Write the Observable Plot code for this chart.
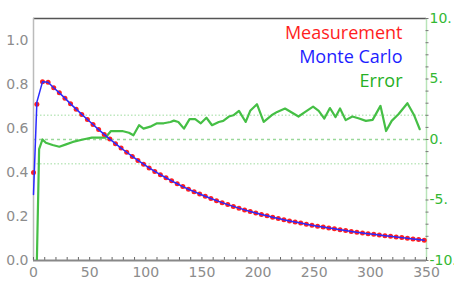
<!DOCTYPE html>
<html><head><meta charset="utf-8">
<script src="https://cdn.jsdelivr.net/npm/d3@7"></script>
<script src="https://cdn.jsdelivr.net/npm/@observablehq/plot@0.6"></script>
<style>html,body{margin:0;padding:0;background:#fff;overflow:hidden}</style>
</head><body><div id="chart"></div>
<script>
const measX = [0,3,8,13,18,23,28,33,38,43,48,53,58,63,68,73,78,83,88,93,98,103,108,113,118,123,128,133,138,143,148,153,158,163,168,173,178,183,188,193,198,203,208,213,218,223,228,233,238,243,248,253,258,263,268,273,278,283,288,293,298,303,308,313,318,323,328,333,338,343,348];
const measV = [0.40,0.71,0.812,0.81,0.785,0.762,0.738,0.712,0.688,0.664,0.641,0.618,0.595,0.573,0.552,0.531,0.511,0.492,0.473,0.455,0.438,0.421,0.405,0.390,0.376,0.362,0.349,0.336,0.324,0.313,0.302,0.292,0.282,0.272,0.263,0.254,0.246,0.238,0.230,0.223,0.216,0.209,0.203,0.197,0.191,0.185,0.180,0.175,0.170,0.165,0.160,0.156,0.152,0.148,0.144,0.140,0.136,0.132,0.128,0.125,0.122,0.119,0.116,0.113,0.110,0.107,0.104,0.101,0.098,0.095,0.092];
const mcX = measX;
const mcV = [0.30,0.72,0.812,0.81,0.785,0.762,0.738,0.712,0.688,0.664,0.641,0.618,0.595,0.573,0.552,0.531,0.511,0.492,0.473,0.455,0.438,0.421,0.405,0.390,0.376,0.362,0.349,0.336,0.324,0.313,0.302,0.292,0.282,0.272,0.263,0.254,0.246,0.238,0.230,0.223,0.216,0.209,0.203,0.197,0.191,0.185,0.180,0.175,0.170,0.165,0.160,0.156,0.152,0.148,0.144,0.140,0.136,0.132,0.128,0.125,0.122,0.119,0.116,0.113,0.110,0.107,0.104,0.101,0.098,0.095,0.092];
const errX = [3,5,8,11,17,23,29,35,44,52,64,69,79,85,89,94,98,104,110,116,122,125,129,134,139,144,149,154,159,165,169,174,178,183,189,193,199,205,212,217,224,230,236,242,249,254,259,264,269,273,278,284,290,296,302,309,314,319,325,333,339,344];
const errV = [-10,-0.8,0.0,-0.27,-0.45,-0.6,-0.4,-0.2,0.0,0.15,0.15,0.7,0.7,0.56,0.35,1.18,0.9,1.06,1.34,1.34,1.45,1.56,1.45,0.9,1.68,1.68,1.34,1.8,1.18,1.45,1.54,1.9,2.0,2.37,1.45,2.37,2.92,1.45,2.0,2.28,2.56,2.23,1.9,2.28,2.72,2.37,1.73,2.6,1.85,2.56,1.6,1.9,1.73,1.54,1.62,2.78,0.7,1.54,2.09,3.0,2.0,0.85];

const xDomain = [0, 350];
const yDomain = [0, 1.1];
const errDomain = [-10, 10];
const xTicks = [0,50,100,150,200,250,300,350];
const xMinorTicks = d3.range(0, 351, 10);
const yTicks = [0,0.2,0.4,0.6,0.8,1.0];
const yTickLabels = ["0.0","0.2","0.4","0.6","0.8","1.0"];
const errTicks = [-10,-5,0,5,10];
const errTickLabels = ["-10.","-5.","0.","5.","10."];
const errMinorTicks = d3.range(-10, 11, 1);
const errGridMajor = [0];
const errGridMinor = [-2, 2];
const legendLabels = ["Measurement","Monte Carlo","Error"];
const legendColors = ["#ff1e1e","#1e1eff","#25b025"];

// map error values onto the left y scale (secondary axis)
const ey = e => (e - errDomain[0]) / (errDomain[1] - errDomain[0]) * (yDomain[1] - yDomain[0]) + yDomain[0];

const meas = measX.map((x, i) => ({x, v: measV[i]}));
const mc = mcX.map((x, i) => ({x, v: mcV[i]}));
const err = errX.map((x, i) => ({x, v: ey(errV[i])}));
const errLabelMap = new Map(errTicks.map((t, i) => [ey(t), errTickLabels[i]]));
const yLabelMap = new Map(yTicks.map((t, i) => [t, yTickLabels[i]]));

const gray = "#8c8c8c";
const font = "DejaVu Sans";

const chart = Plot.plot({
  width: 454, height: 285,
  marginLeft: 33, marginRight: 28, marginTop: 18, marginBottom: 25,
  style: {fontFamily: font, background: "#fff"},
  x: {domain: xDomain},
  y: {domain: yDomain},
  marks: [
    Plot.ruleY(errGridMinor.map(ey), {stroke: "#bfe8bf", strokeWidth: 1.5, strokeDasharray: "1.5,2"}),
    Plot.ruleY(errGridMajor.map(ey), {stroke: "#9ad89a", strokeWidth: 1.5, strokeDasharray: "3,3"}),
    Plot.ruleY([yDomain[1]], {stroke: "#555", strokeWidth: 1.5}),
    Plot.ruleX([xDomain[0]], {stroke: "#bbb", strokeWidth: 1.5}),
    Plot.ruleX([xDomain[1]], {stroke: "#b8e4b8", strokeWidth: 1.5}),
    Plot.axisY(yTicks, {anchor: "left", tickSize: 0, tickPadding: 5, fontSize: 14, fill: gray, tickFormat: d => yLabelMap.get(d), label: null}),
    Plot.axisX(xTicks, {anchor: "bottom", tickSize: 0, tickPadding: 7, fontSize: 14, fill: gray, label: null}),
    Plot.axisX(xMinorTicks, {anchor: "bottom", tickSize: -3, stroke: "#666", tickFormat: () => "", label: null}),
    Plot.axisY(errMinorTicks.map(ey), {anchor: "right", tickSize: 3, dx: -1.5, stroke: "#777", tickFormat: () => "", label: null}),
    Plot.axisY(errTicks.map(ey), {anchor: "right", tickSize: 0, tickPadding: 3, fontSize: 14, fill: "#33b833", stroke: "#33b833", strokeWidth: 0.5, tickFormat: d => errLabelMap.get(d), label: null}),
    Plot.ruleY([yDomain[0]], {stroke: "#888", strokeWidth: 2}),
    Plot.line(err, {x: "x", y: "v", stroke: "#45bf45", strokeWidth: 2.2, clip: true}),
    Plot.dot(meas, {x: "x", y: "v", r: 2.5, fill: "#ff2020", stroke: "none"}),
    Plot.line(mc, {x: "x", y: "v", stroke: "#2a2aff", strokeWidth: 1.5}),
    ...legendLabels.map((t, i) => Plot.text([t], {
      frameAnchor: "top-right", text: d => d, dx: -24, dy: 20 + i * 24,
      textAnchor: "end", lineAnchor: "bottom", fontSize: 18, fontFamily: "Open Sans",
      fill: legendColors[i]
    }))
  ]
});
document.getElementById("chart").appendChild(chart);
</script>
</body></html>
